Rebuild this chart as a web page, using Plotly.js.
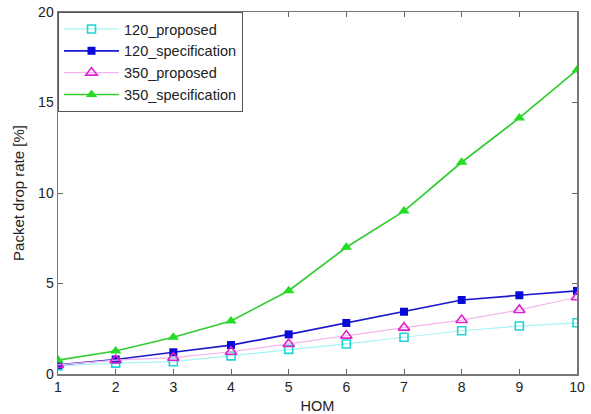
<!DOCTYPE html>
<html><head><meta charset="utf-8">
<script src="https://cdn.plot.ly/plotly-3.0.1.min.js"></script>
<style>body{margin:0;background:#fff}#chart{width:591px;height:414px}</style>
</head><body><div id="chart"></div>
<script>
const hom = [1,2,3,4,5,6,7,8,9,10];
const p120_proposed = [0.45,0.6,0.68,1.0,1.36,1.66,2.03,2.39,2.65,2.83];
const p120_specification = [0.5,0.8,1.2,1.6,2.19,2.82,3.44,4.09,4.35,4.59];
const p350_proposed = [0.5,0.77,0.9,1.23,1.66,2.12,2.56,2.98,3.54,4.24];
const p350_specification = [0.77,1.27,2.03,2.93,4.6,7.0,9.0,11.7,14.15,16.8];
const names = ['120_proposed','120_specification','350_proposed','350_specification'];

const traces = [
  {x: hom, y: p120_proposed, name: names[0], mode:'lines+markers',
   line:{color:'#a8f4f4', width:1.2}, marker:{symbol:'square-open', color:'#22d3d3', size:8, line:{width:1.6}}},
  {x: hom, y: p120_specification, name: names[1], mode:'lines+markers',
   line:{color:'#1a1acc', width:1.7}, marker:{symbol:'square', color:'#0a0ad8', size:8}},
  {x: hom, y: p350_proposed, name: names[2], mode:'lines+markers',
   line:{color:'#f5b5f0', width:1.2}, marker:{symbol:'triangle-up-open', color:'#dd22cc', size:10, line:{width:1.6}}},
  {x: hom, y: p350_specification, name: names[3], mode:'lines+markers',
   line:{color:'#33cc33', width:1.7}, marker:{symbol:'triangle-up', color:'#22dd22', size:10}}
];

const layout = {
  width:591, height:414,
  margin:{l:58, r:14, t:12, b:40},
  paper_bgcolor:'#fff', plot_bgcolor:'#fff',
  font:{family:'"Liberation Sans", Arial, sans-serif', size:14, color:'#222'},
  showlegend:true,
  legend:{x:0, y:1, xanchor:'left', yanchor:'top', bgcolor:'#fff', bordercolor:'#555', borderwidth:1,
          font:{size:14.5}, tracegroupgap:0, itemwidth:55},
  xaxis:{range:[1,10], tickvals:hom, ticks:'inside', ticklen:5, tickcolor:'#666',
         showline:true, linecolor:'#777', linewidth:1.5, mirror:'ticks', showgrid:false, zeroline:false,
         tickfont:{size:14},
         title:{text:'HOM', font:{size:14.5}, standoff:6}},
  yaxis:{range:[0,20], tickvals:[0,5,10,15,20], ticks:'inside', ticklen:5, tickcolor:'#666',
         showline:true, linecolor:'#777', linewidth:1.5, mirror:'ticks', showgrid:false, zeroline:false,
         tickfont:{size:14},
         title:{text:'Packet drop rate [%]', font:{size:15}, standoff:10}}
};
Plotly.newPlot('chart', traces, layout, {displayModeBar:false, staticPlot:true});
</script></body></html>
